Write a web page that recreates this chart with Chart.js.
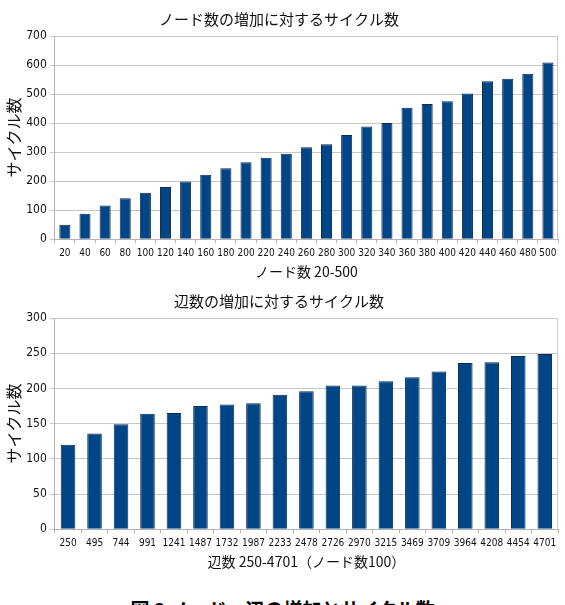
<!DOCTYPE html>
<html>
<head>
<meta charset="utf-8">
<script src="https://cdn.jsdelivr.net/npm/chart.js@4.4.1/dist/chart.umd.min.js"></script>
<style>
  html, body { margin: 0; padding: 0; background: #fff; }
  body { width: 565px; height: 605px; overflow: hidden; position: relative; }
  .box { position: absolute; left: 0; width: 565px; }
  #caption { position: absolute; left: 0; width: 565px; top: 597px; text-align: center;
    font-family: "Noto Sans CJK JP", sans-serif; font-weight: bold; font-size: 19px; line-height: 24px; color: #000; }
</style>
</head>
<body>
<div class="box" style="top:0; height:286px;"><canvas id="nodeChart"></canvas></div>
<div class="box" style="top:286px; height:292px;"><canvas id="edgeChart"></canvas></div>
<div id="caption">図 8 ノード・辺の増加とサイクル数</div>
<script>
// ノード数 20-500
const nodeLabels = ['20','40','60','80','100','120','140','160','180','200','220','240','260','280','300','320','340','360','380','400','420','440','460','480','500'];
const nodeCycles = [50, 88, 116, 141, 160, 180, 199, 222, 244, 265, 281, 294, 317, 327, 359, 388, 400, 453, 466, 475, 502, 544, 553, 570, 609];

// 辺数 250-4701 (ノード数100)
const edgeLabels = ['250','495','744','991','1241','1487','1732','1987','2233','2478','2726','2970','3215','3469','3709','3964','4208','4454','4701'];
const edgeCycles = [120, 136, 149, 164, 165, 175, 177, 179, 191, 196, 204, 204, 210, 216, 224, 236, 237, 246, 249];

const jp = '"Noto Sans CJK JP", sans-serif';
const num = '"DejaVu Sans Condensed", "Liberation Sans Narrow", sans-serif';
const barColor = '#004586';

function makeChart(id, labels, data, title, xTitle, yMax, yStep, pad) {
    const ctx = document.getElementById(id).getContext('2d');
    return new Chart(ctx, {
        type: 'bar',
        data: {
            labels: labels,
            datasets: [{
                data: data,
                backgroundColor: barColor,
                borderColor: '#0b2b4f',
                borderWidth: 1,
                categoryPercentage: 1.0,
                barPercentage: 0.55
            }]
        },
        options: {
            responsive: true,
            maintainAspectRatio: false,
            animation: false,
            layout: { padding: pad },
            plugins: {
                legend: { display: false },
                tooltip: { enabled: false },
                title: {
                    display: true,
                    text: title,
                    color: '#111',
                    font: { family: jp, size: 15, weight: 'normal' },
                    padding: { top: 0, bottom: 8 }
                }
            },
            scales: {
                x: {
                    grid: { display: true, drawOnChartArea: false, offset: true, color: '#b3b3b3', tickLength: 4 },
                    border: { color: '#b3b3b3' },
                    ticks: { color: '#111', font: { family: num, size: 10 }, maxRotation: 0, autoSkip: false, padding: 4 },
                    title: { display: true, text: xTitle, color: '#111', font: { family: jp, size: 14 }, padding: { top: 0 } }
                },
                y: {
                    min: 0,
                    max: yMax,
                    ticks: { stepSize: yStep, color: '#111', font: { family: num, size: 12 }, padding: 3 },
                    grid: { color: '#c8c8c8', tickLength: 5 },
                    border: { color: '#b3b3b3' },
                    title: { display: true, text: 'サイクル数', color: '#111', font: { family: jp, size: 16 }, padding: { bottom: 0 } }
                }
            }
        },
        plugins: [{
            id: 'frame',
            afterDraw(chart) {
                const a = chart.chartArea, c = chart.ctx;
                c.save();
                c.strokeStyle = '#c8c8c8';
                c.lineWidth = 1;
                c.beginPath();
                c.moveTo(a.left, a.top + 0.5);
                c.lineTo(a.right - 0.5, a.top + 0.5);
                c.lineTo(a.right - 0.5, a.bottom);
                c.stroke();
                c.restore();
            }
        }]
    });
}

makeChart('nodeChart', nodeLabels, nodeCycles, 'ノード数の増加に対するサイクル数', 'ノード数 20-500', 700, 100,
    { left: 0, right: 7, top: 10, bottom: 2 });
makeChart('edgeChart', edgeLabels, edgeCycles, '辺数の増加に対するサイクル数', '辺数 250-4701（ノード数100）', 300, 50,
    { left: 0, right: 7, top: 6, bottom: 4 });
</script>
</body>
</html>
